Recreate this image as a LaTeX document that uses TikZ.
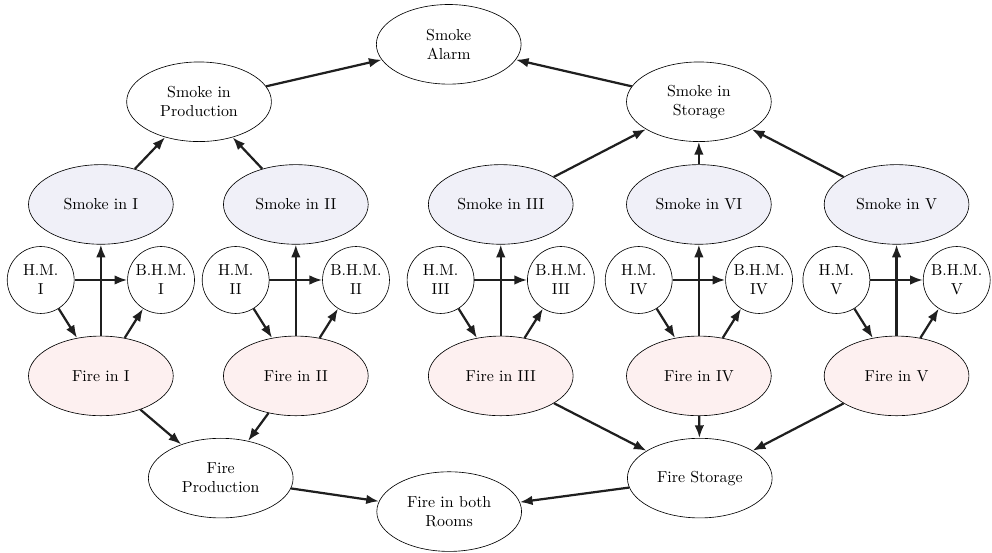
\documentclass[tikz,border=0pt]{standalone}
\usepackage{tikz}
\usetikzlibrary{shapes.geometric, arrows.meta}
\definecolor{smokefill}{RGB}{240,240,248}
\definecolor{firefill}{RGB}{253,240,240}
\tikzset{eventnode/.style={draw, ellipse, minimum width=3.2cm, minimum height=1.76cm, inner sep=0pt, align=center}}
\tikzset{smokenode/.style={eventnode, fill=smokefill}, firenode/.style={eventnode, fill=firefill}}
\tikzset{sensornode/.style={draw, circle, minimum size=1.48cm, inner sep=0pt, align=center}}
\tikzset{causal/.style={-{Latex[length=8pt, width=6pt]}, line width=1.4pt, draw=black!88}}

\begin{document}
\begin{tikzpicture}
\useasboundingbox (0,0) rectangle (21.93,12.22);
% alarm and the two buildings
\node[eventnode] (alarm) at (9.92,11.24) {Smoke\\Alarm};
\node[eventnode] (sprod) at (4.40,9.97) {Smoke in\\Production};
\node[eventnode] (sstor) at (15.45,9.97) {Smoke in\\Storage};
% smoke in each room
\node[smokenode] (sI) at (2.23,7.70) {Smoke in I};
\node[smokenode] (sII) at (6.54,7.70) {Smoke in II};
\node[smokenode] (sIII) at (11.07,7.70) {Smoke in III};
\node[smokenode] (sIV) at (15.45,7.70) {Smoke in VI};
\node[smokenode] (sV) at (19.82,7.70) {Smoke in V};
% heat monitors
\node[sensornode] (hI) at (0.90,6.03) {H.M.\\I};
\node[sensornode] (bI) at (3.56,6.03) {B.H.M.\\I};
\node[sensornode] (hII) at (5.21,6.03) {H.M.\\II};
\node[sensornode] (bII) at (7.87,6.03) {B.H.M.\\II};
\node[sensornode] (hIII) at (9.74,6.03) {H.M.\\III};
\node[sensornode] (bIII) at (12.40,6.03) {B.H.M.\\III};
\node[sensornode] (hIV) at (14.12,6.03) {H.M.\\IV};
\node[sensornode] (bIV) at (16.78,6.03) {B.H.M.\\IV};
\node[sensornode] (hV) at (18.49,6.03) {H.M.\\V};
\node[sensornode] (bV) at (21.15,6.03) {B.H.M.\\V};
% fire in each room
\node[firenode] (fI) at (2.23,3.91) {Fire in I};
\node[firenode] (fII) at (6.54,3.91) {Fire in II};
\node[firenode] (fIII) at (11.07,3.91) {Fire in III};
\node[firenode] (fIV) at (15.45,3.91) {Fire in IV};
\node[firenode] (fV) at (19.82,3.91) {Fire in V};
% fire per building
\node[eventnode] (fprod) at (4.88,1.65) {Fire\\Production};
\node[eventnode] (fstor) at (15.47,1.65) {Fire Storage};
\node[eventnode] (fboth) at (9.93,0.91) {Fire in both\\Rooms};

% smoke goes up
\draw[causal] (sprod) -- (alarm);
\draw[causal] (sstor) -- (alarm);
\draw[causal] (sI) -- (sprod); \draw[causal] (sII) -- (sprod);
\draw[causal] (sIII) -- (sstor); \draw[causal] (sIV) -- (sstor); \draw[causal] (sV) -- (sstor);
% room I
\draw[causal] (fI) -- (sI); \draw[causal] (hI) -- (bI);
\draw[causal] (hI) -- (fI); \draw[causal] (fI) -- (bI);
% room II
\draw[causal] (fII) -- (sII); \draw[causal] (hII) -- (bII);
\draw[causal] (hII) -- (fII); \draw[causal] (fII) -- (bII);
% room III
\draw[causal] (fIII) -- (sIII); \draw[causal] (hIII) -- (bIII);
\draw[causal] (hIII) -- (fIII); \draw[causal] (fIII) -- (bIII);
% room IV
\draw[causal] (fIV) -- (sIV); \draw[causal] (hIV) -- (bIV);
\draw[causal] (hIV) -- (fIV); \draw[causal] (fIV) -- (bIV);
% room V
\draw[causal] (fV) -- (sV); \draw[causal] (hV) -- (bV);
\draw[causal] (hV) -- (fV); \draw[causal] (fV) -- (bV);
% fire goes down
\draw[causal] (fI) -- (fprod); \draw[causal] (fII) -- (fprod);
\draw[causal] (fIII) -- (fstor); \draw[causal] (fIV) -- (fstor); \draw[causal] (fV) -- (fstor);
\draw[causal] (fprod) -- (fboth);
\draw[causal] (fstor) -- (fboth);
\end{tikzpicture}
\end{document}
